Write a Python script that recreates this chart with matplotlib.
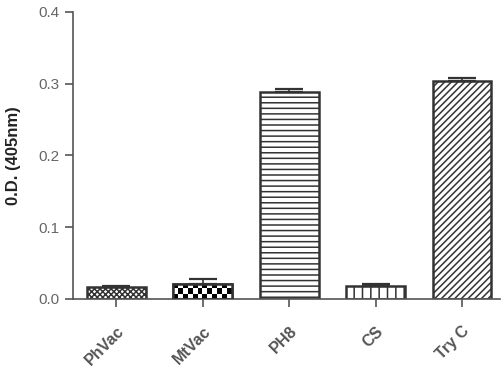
import numpy as np
import matplotlib.pyplot as plt

plt.rcParams['font.family'] = ['Liberation Sans', 'DejaVu Sans']

# data
groups = ['PhVac', 'MtVac', 'PH8', 'CS', 'Try C']
od = [0.017, 0.021, 0.288, 0.018, 0.304]
err = [0.001, 0.007, 0.005, 0.003, 0.004]
yticks = [0.0, 0.1, 0.2, 0.3, 0.4]

fig = plt.figure(figsize=(5.01, 3.68), dpi=100)
ax = fig.add_axes([0.146, 0.1875, 0.852, 0.78])

edge = '#333333'
plt.rcParams['hatch.linewidth'] = 1.1
plt.rcParams['hatch.color'] = '#333333'
hatches = ['xxxxxx', None, '---', '||', '/////']
x = np.arange(len(groups))
bars = ax.bar(x, od, width=0.68, color='white', edgecolor=edge, linewidth=1.8, zorder=2)
for b, h in zip(bars, hatches):
    if h:
        b.set_hatch(h)

# checkerboard for MtVac
b = bars[1]
x0, y0 = b.get_x(), b.get_y()
w, hgt = b.get_width(), b.get_height()
ncol, nrow = 12, 3
board = (np.add.outer(np.arange(nrow), np.arange(ncol)) % 2).astype(float)
im = ax.imshow(board, cmap='gray', extent=[x0, x0 + w, y0, y0 + hgt], aspect='auto',
               interpolation='nearest', zorder=2.5, origin='lower')
im.set_clip_path(b)
ax.bar(x[1], od[1], width=0.68, color='none', edgecolor=edge, linewidth=1.8, zorder=3)

ax.errorbar(x, od, yerr=[np.zeros(len(err)), err], fmt='none', ecolor=edge,
            elinewidth=1.2, capsize=10, capthick=1.6, zorder=4)

ax.set_xlim(-0.5, 4.44)
ax.set_ylim(0, 0.4)
ax.set_yticks(yticks)
ax.set_yticklabels([f'{t:.1f}' for t in yticks])
ax.set_xticks(x)
ax.set_xticklabels(groups, rotation=45, ha='right', va='top', rotation_mode='anchor',
                   fontweight='bold', fontsize=11.5, color='#222222')
ax.set_ylabel('0.D. (405nm)', fontweight='bold', fontsize=12, color='#222222', labelpad=12)

for s in ['top', 'right']:
    ax.spines[s].set_visible(False)
for s in ['left', 'bottom']:
    ax.spines[s].set_color('#555555')
    ax.spines[s].set_linewidth(1.2)
ax.tick_params(axis='y', colors='#555555', labelcolor='#666666', labelsize=11, length=6, width=1.2, pad=4)
ax.tick_params(axis='x', colors='#555555', length=5.5, width=1.2, pad=12)

fig.savefig('out.png', dpi=100)
